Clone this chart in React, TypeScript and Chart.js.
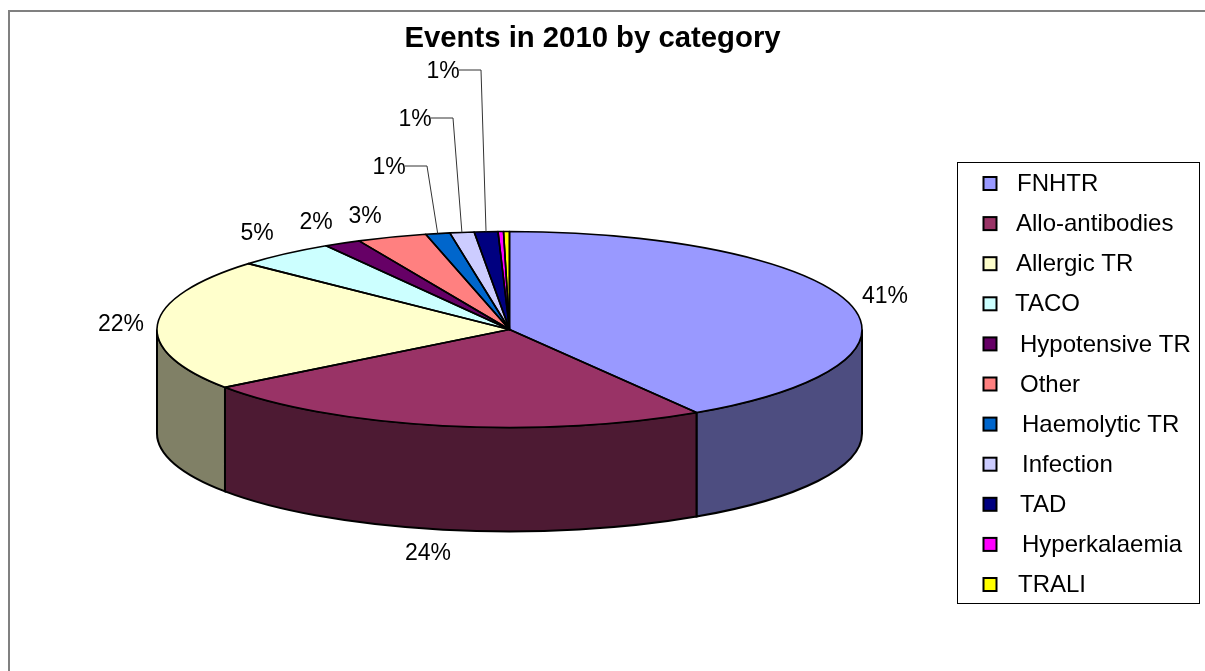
import { useEffect, useRef } from "react";
import { Chart, registerables } from "chart.js";

Chart.register(...registerables);

// Share of reported events per category, in percent.
const categories = [
  "FNHTR",
  "Allo-antibodies",
  "Allergic TR",
  "TACO",
  "Hypotensive TR",
  "Other",
  "Haemolytic TR",
  "Infection",
  "TAD",
  "Hyperkalaemia",
  "TRALI",
];
const shares = [41.1, 23.85, 21.78, 4.56, 1.69, 3.2, 1.11, 1.11, 1.08, 0.25, 0.27];
const topColors = [
  "#9999FF", "#993366", "#FFFFCC", "#CCFFFF", "#660066", "#FF8080",
  "#0066CC", "#CCCCFF", "#000080", "#FF00FF", "#FFFF00",
];
const chartTitle = "Events in 2010 by category";

// Geometry of the tilted pie on the canvas.
const PIE = { cx: 509.5, cy: 329.5, rx: 352.5, ry: 98, depth: 104 };
const FONT = '"Liberation Sans", Arial, sans-serif';

// Centre of each percentage label; slices under half a percent carry none.
const labelCentres: ([number, number] | null)[] = [
  [885, 297], [428, 554], [121, 325], [257, 234], [316, 223], [365, 217],
  [389, 168], [415, 120], [443, 72], null, null,
];
// Slices whose labels sit away from the pie and need an elbow line.
const leaderElbows: Record<number, [number, number]> = {
  6: [427, 166],
  7: [453, 118],
  8: [481, 70],
};
// Small horizontal shift of each legend text.
const legendTextX = [1017, 1016, 1016, 1015, 1020, 1020, 1022, 1022, 1020, 1022, 1018];

const darken = (hex: string) => {
  const n = parseInt(hex.slice(1), 16);
  const c = [(n >> 16) & 255, (n >> 8) & 255, n & 255].map((v) => Math.round(v / 2));
  return `rgb(${c[0]},${c[1]},${c[2]})`;
};

// Draws the frame behind everything, then the side wall of the pie.
const frameAndWalls = {
  id: "frameAndWalls",
  beforeDatasetsDraw(chart: any) {
    const { ctx } = chart;
    const arcs = chart.getDatasetMeta(0).data;
    ctx.save();
    ctx.strokeStyle = "#808080";
    ctx.lineWidth = 2;
    ctx.strokeRect(9, 11, 1400, 1000);
    ctx.restore();

    ctx.save();
    ctx.lineWidth = 2;
    ctx.strokeStyle = "#000";
    arcs.forEach((arc: any, i: number) => {
      // Only the part of a slice on the near half of the ellipse has a wall.
      const a0 = Math.max(arc.startAngle, 0);
      const a1 = Math.min(arc.endAngle, Math.PI);
      if (a1 <= a0) return;
      ctx.beginPath();
      ctx.ellipse(PIE.cx, PIE.cy + PIE.depth, PIE.rx, PIE.ry, 0, a0, a1);
      ctx.ellipse(PIE.cx, PIE.cy, PIE.rx, PIE.ry, 0, a1, a0, true);
      ctx.closePath();
      ctx.fillStyle = darken(topColors[i]);
      ctx.fill();
      ctx.stroke();
    });
    ctx.restore();

    // The library's arcs are squashed into the pie's top face.
    const first = arcs[0];
    ctx.save();
    ctx.translate(PIE.cx, PIE.cy);
    ctx.scale(PIE.rx / first.outerRadius, PIE.ry / first.outerRadius);
    ctx.translate(-first.x, -first.y);
  },
  afterDatasetsDraw(chart: any) {
    const { ctx } = chart;
    ctx.restore();
    const arcs = chart.getDatasetMeta(0).data;
    const total = shares.reduce((a, b) => a + b, 0);

    ctx.save();
    ctx.lineWidth = 1.6;
    ctx.strokeStyle = "#000";
    ctx.lineJoin = "round";
    arcs.forEach((arc: any) => {
      ctx.beginPath();
      ctx.moveTo(PIE.cx, PIE.cy);
      ctx.ellipse(PIE.cx, PIE.cy, PIE.rx, PIE.ry, 0, arc.startAngle, arc.endAngle);
      ctx.closePath();
      ctx.stroke();
    });
    ctx.restore();

    // Percentage labels and their elbow lines.
    ctx.save();
    ctx.font = `23px ${FONT}`;
    ctx.fillStyle = "#000";
    ctx.textAlign = "center";
    ctx.textBaseline = "middle";
    arcs.forEach((arc: any, i: number) => {
      const centre = labelCentres[i];
      if (!centre) return;
      ctx.fillText(`${Math.round((shares[i] / total) * 100)}%`, centre[0], centre[1]);
      const elbow = leaderElbows[i];
      if (elbow) {
        const mid = (arc.startAngle + arc.endAngle) / 2;
        ctx.beginPath();
        ctx.moveTo(elbow[0] - 22, elbow[1]);
        ctx.lineTo(elbow[0], elbow[1]);
        ctx.lineTo(
          PIE.cx + PIE.rx * Math.cos(mid),
          PIE.cy + PIE.ry * Math.sin(mid)
        );
        ctx.strokeStyle = "#333";
        ctx.lineWidth = 1;
        ctx.stroke();
      }
    });
    ctx.restore();

    // Legend box with one row per category.
    ctx.save();
    ctx.strokeStyle = "#000";
    ctx.lineWidth = 1;
    ctx.fillStyle = "#fff";
    ctx.fillRect(958, 163, 241, 440);
    ctx.strokeRect(957.5, 162.5, 242, 441);
    ctx.font = `24px ${FONT}`;
    ctx.textBaseline = "middle";
    ctx.textAlign = "left";
    categories.forEach((name, i) => {
      const y = 183.5 + i * 40.1;
      ctx.fillStyle = topColors[i];
      ctx.fillRect(983.5, y - 6.5, 13, 13);
      ctx.lineWidth = 2;
      ctx.strokeRect(983.5, y - 6.5, 13, 13);
      ctx.fillStyle = "#000";
      ctx.fillText(name, legendTextX[i], y + 1);
    });
    ctx.restore();
  },
};

export default function App() {
  const canvasRef = useRef<HTMLCanvasElement>(null);

  useEffect(() => {
    const chart = new Chart(canvasRef.current!, {
      type: "pie",
      data: {
        labels: categories,
        datasets: [
          {
            data: shares,
            backgroundColor: topColors,
            borderWidth: 0,
            clip: false,
          } as any,
        ],
      },
      options: {
        animation: false,
        responsive: false,
        layout: { padding: { right: 20 } },
        plugins: {
          legend: { display: false },
          tooltip: { enabled: false },
          title: {
            display: true,
            text: chartTitle,
            color: "#000",
            font: { family: FONT, size: 29.3, weight: "bold" },
            padding: { top: 21, bottom: 10 },
          },
        },
      },
      plugins: [frameAndWalls],
    });
    return () => chart.destroy();
  }, []);

  return (
    <canvas
      ref={canvasRef}
      width={1205}
      height={671}
      style={{ position: "fixed", left: 0, top: 0, width: 1205, height: 671, background: "#fff" }}
    />
  );
}
